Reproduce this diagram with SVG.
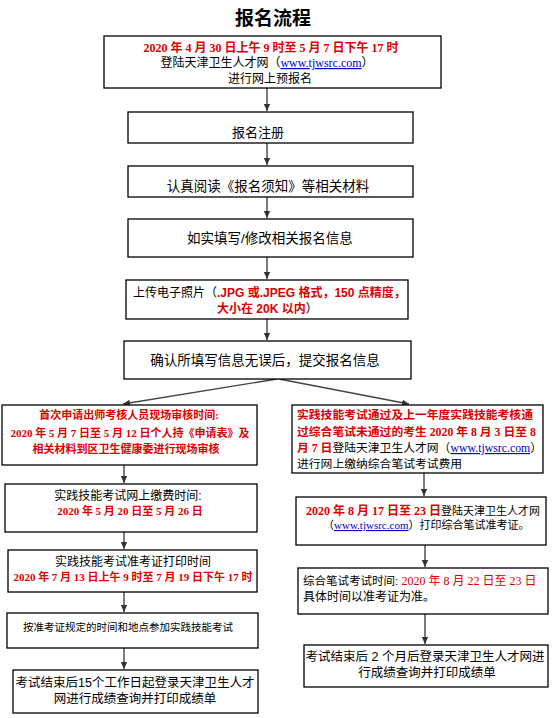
<svg xmlns="http://www.w3.org/2000/svg" width="555" height="718" viewBox="0 0 555 718">
<defs>
<marker id="ah" markerWidth="8" markerHeight="8" refX="7" refY="4" orient="auto" markerUnits="userSpaceOnUse">
<path d="M0,0.8 L7,4 L0,7.2 Z" fill="#333"/>
</marker>
<style>
rect.b{fill:#fff;stroke:#000;stroke-width:1.3}
.c line{stroke:#444;stroke-width:1.4;marker-end:url(#ah)}
text{font-family:"Liberation Sans","Noto Sans CJK SC",sans-serif;fill:#000}
.s{font-family:"Liberation Serif","Noto Sans CJK SC",serif}
.r{fill:#dd0000;font-weight:bold}
.rn{fill:#dd0000}
.k{fill:#000;font-weight:normal}
.u{fill:#0000cc;text-decoration:underline;font-weight:normal}
.m{text-anchor:middle}
</style>
</defs>
<text x="273" y="25" class="s m" style="font-size:19px;font-weight:bold">报名流程</text>

<g class="c">
<line x1="267" y1="88" x2="267" y2="111"/>
<line x1="267" y1="143" x2="267" y2="165"/>
<line x1="267" y1="197" x2="267" y2="218"/>
<line x1="267" y1="257" x2="267" y2="279"/>
<line x1="267" y1="319" x2="267" y2="340"/>
<line x1="277" y1="379" x2="123" y2="404"/>
<line x1="279" y1="379" x2="409" y2="404"/>
<line x1="124" y1="465" x2="124" y2="483"/>
<line x1="124" y1="532" x2="124" y2="549"/>
<line x1="124" y1="592" x2="124" y2="612"/>
<line x1="124" y1="648" x2="124" y2="669"/>
<line x1="424" y1="473" x2="424" y2="496"/>
<line x1="425" y1="545" x2="425" y2="567"/>
<line x1="425" y1="614" x2="425" y2="644"/>
</g>

<g id="n1">
<rect class="b" x="104" y="36" width="337" height="52"/>
<text x="271" y="52" class="s m r" style="font-size:12px">2020 年 4 月 30 日上午 9 时至 5 月 7 日下午 17 时</text>
<text x="267" y="67" class="m" style="font-size:12px">登陆天津卫生人才网（<tspan class="s u">www.tjwsrc.com</tspan>）</text>
<text x="270" y="83" class="m" style="font-size:12px">进行网上预报名</text>
</g>
<g id="n2">
<rect class="b" x="128" y="112" width="285" height="31"/>
<text x="258" y="137" class="m" style="font-size:13px">报名注册</text>
</g>
<g id="n3">
<rect class="b" x="128" y="166" width="285" height="31"/>
<text x="268" y="191" class="m" style="font-size:13.5px">认真阅读《报名须知》等相关材料</text>
</g>
<g id="n4">
<rect class="b" x="128" y="219" width="285" height="38"/>
<text x="270" y="243" class="m" style="font-size:13.5px">如实填写/修改相关报名信息</text>
</g>
<g id="n5">
<rect class="b" x="126" y="280" width="282" height="39"/>
<text x="133" y="297" style="font-size:12px">上传电子照片（<tspan class="r">.JPG 或.JPEG 格式，150 点精度，</tspan></text>
<text x="217" y="313" style="font-size:12px"><tspan class="r">大小在 20K 以内</tspan>）</text>
</g>
<g id="n6">
<rect class="b" x="124" y="341" width="287" height="38"/>
<text x="265" y="365" class="m" style="font-size:13.5px">确认所填写信息无误后，提交报名信息</text>
</g>

<g id="a1">
<rect class="b" x="2" y="405" width="255" height="60"/>
<text x="129" y="419" class="s m r" style="font-size:11px">首次申请出师考核人员现场审核时间:</text>
<text x="130" y="437" class="s m r" style="font-size:11px">2020 年 5 月 7 日至 5 月 12 日个人持《申请表》及</text>
<text x="126" y="453" class="s m r" style="font-size:11px">相关材料到区卫生健康委进行现场审核</text>
</g>
<g id="a2">
<rect class="b" x="5" y="484" width="252" height="48"/>
<text x="128" y="500" class="m" style="font-size:12px">实践技能考试网上缴费时间:</text>
<text x="130" y="515" class="s m r" style="font-size:11px">2020 年 5 月 20 日至 5 月 26 日</text>
</g>
<g id="a3">
<rect class="b" x="8" y="550" width="249" height="42"/>
<text x="133" y="566" class="m" style="font-size:12px">实践技能考试准考证打印时间</text>
<text x="133" y="581" class="s m r" style="font-size:11px">2020 年 7 月 13 日上午 9 时至 7 月 19 日下午 17 时</text>
</g>
<g id="a4">
<rect class="b" x="7" y="613" width="251" height="35"/>
<text x="23" y="631" style="font-size:10.5px">按准考证规定的时间和地点参加实践技能考试</text>
</g>
<g id="a5">
<rect class="b" x="13" y="670" width="245" height="43"/>
<text x="135" y="687" class="m" style="font-size:12.5px">考试结束后15个工作日起登录天津卫生人才</text>
<text x="135" y="703" class="m" style="font-size:12.5px">网进行成绩查询并打印成绩单</text>
</g>

<g id="b1">
<rect class="b" x="292" y="405" width="251" height="68"/>
<text x="297" y="419" class="s r" style="font-size:11.8px">实践技能考试通过及上一年度实践技能考核通</text>
<text x="297" y="436" class="s r" style="font-size:11.8px">过综合笔试未通过的考生 2020 年 8 月 3 日至 8</text>
<text x="297" y="452" style="font-size:11.8px"><tspan class="s r">月 7 日</tspan>登陆天津卫生人才网（<tspan class="s u">www.tjwsrc.com</tspan>）</text>
<text x="297" y="468" style="font-size:11.8px">进行网上缴纳综合笔试考试费用</text>
</g>
<g id="b2">
<rect class="b" x="296" y="497" width="250" height="48"/>
<text x="306" y="515" style="font-size:11px"><tspan class="s r" style="font-size:12px">2020 年 8 月 17 日至 23 日</tspan>登陆天津卫生人才网</text>
<text x="323" y="529" style="font-size:11px">（<tspan class="s u">www.tjwsrc.com</tspan>）打印综合笔试准考证。</text>
</g>
<g id="b3">
<rect class="b" x="298" y="568" width="250" height="46"/>
<text x="303" y="585" style="font-size:11.5px">综合笔试考试时间: <tspan class="s rn" style="font-size:12px">2020 年 8 月 22 日至 23 日</tspan></text>
<text x="303" y="601" style="font-size:12px">具体时间以准考证为准。</text>
</g>
<g id="b4">
<rect class="b" x="304" y="645" width="244" height="42"/>
<text x="425" y="661" class="m" style="font-size:12.5px">考试结束后 2 个月后登录天津卫生人才网进</text>
<text x="427" y="677" class="m" style="font-size:12.5px">行成绩查询并打印成绩单</text>
</g>
</svg>
